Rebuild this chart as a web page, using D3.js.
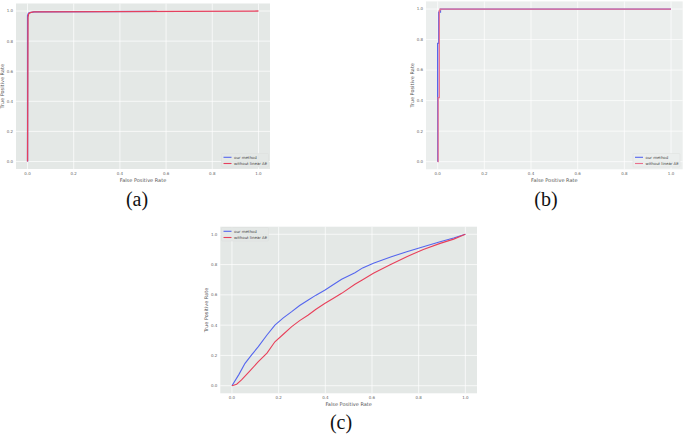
<!DOCTYPE html>
<html>
<head>
<meta charset="utf-8">
<script src="https://cdn.jsdelivr.net/npm/d3@7"></script>
<style>
  body { margin: 0; background: #fff; }
  svg { display: block; }
</style>
</head>
<body>
<svg width="685" height="435"></svg>
<script>
const seriesNames = ["our method", "without linear AE"];
const tickValues = [0, 0.2, 0.4, 0.6, 0.8, 1.0];

// (a) roc points [fpr, tpr]
const aOurs = [[0, 0], [0, 0.97], [0.004, 0.985], [0.01, 0.99], [0.03, 0.995], [0.56, 0.998]];
const aPlain = [[0, 0], [0.002, 0.96], [0.005, 0.982], [0.012, 0.99], [0.025, 0.995], [1, 1]];

// (b)
const bOurs = [[0, 0], [0, 0.775], [0.004, 0.775], [0.004, 0.98], [0.012, 0.98], [0.012, 1], [1, 1]];
const bPlain = [[0, 0], [0.002, 0], [0.002, 0.42], [0.007, 0.42], [0.007, 0.99], [0.01, 0.99], [0.01, 1], [1, 1]];

// (c)
const cOurs = [[0, 0], [0.03, 0.075], [0.056, 0.148], [0.085, 0.205], [0.113, 0.258], [0.15, 0.335],
  [0.184, 0.40], [0.22, 0.448], [0.256, 0.489], [0.29, 0.53], [0.327, 0.566], [0.36, 0.598],
  [0.399, 0.632], [0.435, 0.668], [0.47, 0.703], [0.527, 0.746], [0.56, 0.778], [0.606, 0.808],
  [0.68, 0.85], [0.749, 0.885], [0.82, 0.918], [0.892, 0.951], [0.95, 0.975], [1, 1]];
const cPlain = [[0, 0], [0.02, 0.01], [0.041, 0.038], [0.075, 0.095], [0.113, 0.159], [0.15, 0.215],
  [0.184, 0.29], [0.22, 0.34], [0.256, 0.39], [0.29, 0.43], [0.327, 0.467], [0.36, 0.505],
  [0.399, 0.544], [0.435, 0.578], [0.47, 0.61], [0.527, 0.67], [0.56, 0.7], [0.606, 0.742],
  [0.68, 0.8], [0.749, 0.852], [0.82, 0.9], [0.892, 0.94], [0.95, 0.968], [1, 1]];

const blue = "#5566ee";

const svg = d3.select("svg");

function drawPanel(p) {
  const x = d3.scaleLinear().domain([-0.05, 1.05]).range([p.left, p.right]);
  const y = d3.scaleLinear().domain([-0.05, 1.05]).range([p.bottom, p.top]);
  const g = svg.append("g");

  g.append("rect")
    .attr("x", p.left).attr("y", p.top)
    .attr("width", p.right - p.left).attr("height", p.bottom - p.top)
    .attr("fill", p.bg);

  // grid
  g.selectAll(".gx").data(tickValues).enter().append("line")
    .attr("x1", d => x(d)).attr("x2", d => x(d))
    .attr("y1", p.top).attr("y2", p.bottom)
    .attr("stroke", "#fff").attr("stroke-width", 0.7);
  g.selectAll(".gy").data(tickValues).enter().append("line")
    .attr("y1", d => y(d)).attr("y2", d => y(d))
    .attr("x1", p.left).attr("x2", p.right)
    .attr("stroke", "#fff").attr("stroke-width", 0.7);

  // tick labels
  g.selectAll(".tx").data(tickValues).enter().append("text")
    .attr("x", d => x(d)).attr("y", p.bottom + 5.8)
    .attr("text-anchor", "middle")
    .attr("font-family", "DejaVu Sans").attr("font-size", 4).attr("fill", "#666")
    .text(d3.format(".1f"));
  g.selectAll(".ty").data(tickValues).enter().append("text")
    .attr("x", p.left - 3).attr("y", d => y(d) + 1.4)
    .attr("text-anchor", "end")
    .attr("font-family", "DejaVu Sans").attr("font-size", 4).attr("fill", "#666")
    .text(d3.format(".1f"));

  g.append("text")
    .attr("x", (p.left + p.right) / 2).attr("y", p.bottom + 12.5)
    .attr("text-anchor", "middle")
    .attr("font-family", "DejaVu Sans").attr("font-size", 5).attr("fill", "#555")
    .text("False Positive Rate");
  g.append("text")
    .attr("transform", `translate(${p.left - 12},${(p.top + p.bottom) / 2}) rotate(-90)`)
    .attr("text-anchor", "middle")
    .attr("font-family", "DejaVu Sans").attr("font-size", 5).attr("fill", "#555")
    .text("True Positive Rate");

  const line = d3.line().x(d => x(d[0])).y(d => y(d[1]));
  g.append("path").datum(p.ours).attr("d", line)
    .attr("fill", "none").attr("stroke", blue).attr("stroke-width", p.lw);
  g.append("path").datum(p.plain).attr("d", line)
    .attr("fill", "none").attr("stroke", p.red).attr("stroke-width", p.lw);

  // legend
  const lg = g.append("g").attr("transform", `translate(${p.legX},${p.legY})`);
  lg.append("rect").attr("width", 47).attr("height", 13.5)
    .attr("fill", p.bg).attr("stroke", "#d8dcda").attr("stroke-width", 0.4).attr("rx", 1);
  [blue, p.red].forEach((c, i) => {
    lg.append("line").attr("x1", 2).attr("x2", 10)
      .attr("y1", 3.8 + i * 6.2).attr("y2", 3.8 + i * 6.2)
      .attr("stroke", c).attr("stroke-width", 1.1);
    lg.append("text").attr("x", 12.5).attr("y", 5.2 + i * 6.2)
      .attr("font-family", "DejaVu Sans").attr("font-size", 3.9).attr("fill", "#444")
      .text(seriesNames[i]);
  });

  svg.append("text")
    .attr("x", p.capX).attr("y", p.capY)
    .attr("text-anchor", "middle")
    .attr("font-family", "Liberation Serif").attr("font-size", 20).attr("fill", "#111")
    .text(p.caption);
}

drawPanel({left: 16, right: 270, top: 3.5, bottom: 169, bg: "#e4e8e6",
  ours: aOurs, plain: aPlain, lw: 1.3, red: "#e5405e",
  legX: 221.5, legY: 153.5, capX: 137, capY: 206, caption: "(a)"});
drawPanel({left: 426, right: 682.7, top: 1.4, bottom: 169.3, bg: "#ebeeed",
  ours: bOurs, plain: bPlain, lw: 1.3, red: "#ea6f8c",
  legX: 633, legY: 153.5, capX: 546, capY: 206, caption: "(b)"});
drawPanel({left: 220.3, right: 477, top: 226.7, bottom: 393.3, bg: "#e4e8e6",
  ours: cOurs, plain: cPlain, lw: 1.1, red: "#e8405a",
  legX: 221.5, legY: 227.5, capX: 341, capY: 429, caption: "(c)"});
</script>
</body>
</html>
